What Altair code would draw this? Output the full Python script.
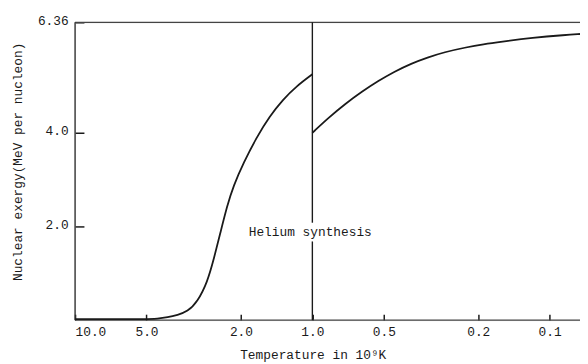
import altair as alt
import pandas as pd

# Temperature (10^9 K) and nuclear exergy (MeV per nucleon)
temp_before = [10.0, 7.0, 5.0, 4.5, 4.07, 3.70, 3.36, 3.05, 2.77, 2.60, 2.44, 2.29,
               2.15, 1.95, 1.72, 1.51, 1.33, 1.17, 1.0]
exergy_before = [0.02, 0.02, 0.02, 0.03, 0.06, 0.11, 0.18, 0.39, 0.81, 1.31, 1.87, 2.43,
                 2.87, 3.36, 3.90, 4.36, 4.71, 4.99, 5.25]
temp_after = [1.0, 0.851, 0.726, 0.618, 0.527, 0.450, 0.383, 0.327, 0.279, 0.223,
              0.190, 0.162, 0.118, 0.0855, 0.0745]
exergy_after = [4.0, 4.33, 4.62, 4.88, 5.11, 5.31, 5.48, 5.61, 5.72, 5.83,
                5.89, 5.94, 6.03, 6.09, 6.11]

x_ticks = [10.0, 5.0, 2.0, 1.0, 0.5, 0.2, 0.1]
y_ticks = [2.0, 4.0, 6.36]
x_domain = [0.0745, 10.0]
y_domain = [0.0, 6.36]

# vertical line at T = 1.0, interrupted by the label
split_temp = [1.0, 1.0]
split_lo = [0.0, 2.08]
split_hi = [1.68, 6.36]

label_text = ["Helium synthesis"]
label_temp = [1.854]
label_exergy = [1.89]

FONT = "Liberation Mono"
INK = "#1a1a1a"

curve = pd.DataFrame({
    "T": temp_before + temp_after,
    "E": exergy_before + exergy_after,
    "seg": ["before"] * len(temp_before) + ["after"] * len(temp_after),
    "i": list(range(len(temp_before) + len(temp_after))),
})
split = pd.DataFrame({"T": split_temp, "lo": split_lo, "hi": split_hi})
label = pd.DataFrame({"T": label_temp, "E": label_exergy, "txt": label_text})

xscale = alt.Scale(type="log", domain=x_domain, reverse=True, nice=False)
yscale = alt.Scale(domain=y_domain, nice=False, zero=False)

xaxis = alt.Axis(
    values=x_ticks, format=".1f", domain=False, grid=False,
    offset=-6, tickSize=6, tickWidth=1.5, tickColor=INK,
    labelPadding=6, labelFont=FONT, labelFontSize=13, labelColor=INK,
    title="Temperature in 10⁹K", titleFont=FONT, titleFontSize=13,
    titleFontWeight="normal", titleColor=INK,
    titleX=241, titleY=45, titleAlign="center", titleBaseline="alphabetic",
)
yaxis = alt.Axis(
    values=y_ticks, domain=False, grid=False,
    labelExpr="datum.value == 6.36 ? '6.36' : format(datum.value, '.1f')",
    offset=-9, tickSize=9, tickWidth=1.5, tickColor=INK,
    labelPadding=7, labelOffset=-2, labelFont=FONT, labelFontSize=13, labelColor=INK,
    title="Nuclear exergy(MeV per nucleon)", titleFont=FONT, titleFontSize=13,
    titleFontWeight="normal", titleColor=INK,
    titleX=-67, titleY=141, titleAlign="center", titleBaseline="middle", titleAngle=-90,
)

base_x = alt.X("T:Q", scale=xscale, axis=xaxis)
base_y = alt.Y("E:Q", scale=yscale, axis=yaxis)

line = alt.Chart(curve).mark_line(
    color=INK, strokeWidth=1.8, clip=True, interpolate="basis"
).encode(x=base_x, y=base_y, detail="seg:N", order="i:Q")

frame_top = alt.Chart().mark_rule(color="#444", strokeWidth=1.2).encode(y=alt.datum(6.36))
frame_bottom = alt.Chart().mark_rule(color="#444", strokeWidth=1.2).encode(y=alt.datum(0.0))
frame_left = alt.Chart().mark_rule(color="#333", strokeWidth=1.4).encode(x=alt.datum(10.0))

vline = alt.Chart(split).mark_rule(color=INK, strokeWidth=1.4).encode(
    x="T:Q", y="lo:Q", y2="hi:Q"
)

text = alt.Chart(label).mark_text(
    font=FONT, fontSize=13, align="left", baseline="middle", color=INK
).encode(x="T:Q", y="E:Q", text="txt:N")

chart = alt.layer(frame_top, frame_bottom, frame_left, vline, line, text).properties(
    width=512, height=302,
    autosize=alt.AutoSizeParams(type="none"),
    padding={"left": 68, "top": 12, "right": 0, "bottom": 42},
).configure_view(stroke=None).configure(background="white")

chart.save("out.html", embed_options={"renderer": "svg", "actions": False})
